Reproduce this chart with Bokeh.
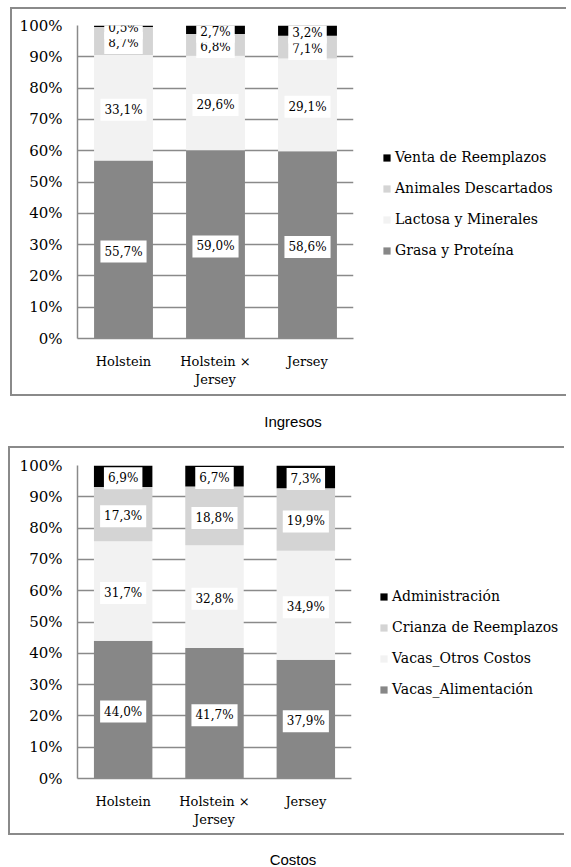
from bokeh.plotting import figure
from bokeh.models import (ColumnDataSource, FixedTicker, NumeralTickFormatter, Legend,
                          LegendItem, Div, Range1d, FactorRange)
from bokeh.layouts import column, row
from bokeh.core.properties import value
from bokeh.embed import file_html
from bokeh.resources import INLINE

# ---------------- data ----------------
breeds = ["Holstein", "Holstein ×\nJersey", "Jersey"]

ing_series = ["Grasa y Proteína", "Lactosa y Minerales", "Animales Descartados", "Venta de Reemplazos"]
ing_grasa = [55.7, 59.0, 58.6]
ing_lactosa = [33.1, 29.6, 29.1]
ing_animales = [8.7, 6.8, 7.1]
ing_venta = [0.5, 2.7, 3.2]

cos_series = ["Vacas_Alimentación", "Vacas_Otros Costos", "Crianza de Reemplazos", "Administración"]
cos_alim = [44.0, 41.7, 37.9]
cos_otros = [31.7, 32.8, 34.9]
cos_crianza = [17.3, 18.8, 19.9]
cos_admin = [6.9, 6.7, 7.3]

y_ticks = [0, 0.1, 0.2, 0.3, 0.4, 0.5, 0.6, 0.7, 0.8, 0.9, 1.0]

colors = ["#878787", "#f2f2f2", "#d4d4d4", "#000000"]

SERIF = "DejaVu Serif"
GRID = "#8a8a8a"
BORDER = f"2px solid {GRID}"


def make_panel(names, series, height, top, bottom, left, leg_x, leg_y, margin):
    p = figure(x_range=FactorRange(*breeds), y_range=Range1d(0, 1),
               width=345, height=height, output_backend="svg", toolbar_location=None,
               min_border_left=left, min_border_right=4, min_border_top=top,
               min_border_bottom=bottom)
    p.outline_line_color = None
    totals = [sum(s[i] for s in series) for i in range(len(breeds))]
    base = [0.0] * len(breeds)
    label_sources = []
    for name, vals, col in zip(names, series, colors):
        fr = [v / t for v, t in zip(vals, totals)]
        tops = [b + f for b, f in zip(base, fr)]
        mids = [b + f / 2 for b, f in zip(base, fr)]
        src = ColumnDataSource(dict(x=breeds, bottom=list(base), top=tops, mid=mids,
                                    lbl=[f"{v:.1f}%".replace(".", ",") for v in vals]))
        p.vbar(x="x", bottom="bottom", top="top", width=0.64, source=src,
               fill_color=col, line_color=None)
        label_sources.append(src)
        base = tops
    for src in label_sources:
        p.text(x="x", y="mid", text="lbl", source=src, text_align="center",
               text_baseline="middle", text_font=value(SERIF), text_font_size="12px",
               text_color="#000000", background_fill_color="white", padding=4,
               y_offset=2)

    p.xgrid.grid_line_color = None
    p.ygrid.grid_line_color = GRID
    p.ygrid.grid_line_width = 1.5

    p.yaxis.ticker = FixedTicker(ticks=y_ticks)
    p.yaxis.formatter = NumeralTickFormatter(format="0%")
    p.yaxis.major_label_text_font = SERIF
    p.yaxis.major_label_text_font_size = "15px"
    p.yaxis.major_label_text_color = "#000000"
    p.yaxis.major_label_standoff = 15
    p.yaxis.major_tick_out = 0
    p.yaxis.major_tick_in = 0
    p.yaxis.axis_line_color = GRID
    p.yaxis.axis_line_width = 1.5
    p.yaxis.major_tick_line_color = None
    p.yaxis.minor_tick_line_color = None

    p.xaxis.major_label_text_font = SERIF
    p.xaxis.major_label_text_font_size = "13px"
    p.xaxis.major_label_text_color = "#000000"
    p.xaxis.major_label_standoff = 15
    p.xaxis.major_tick_out = 0
    p.xaxis.major_tick_in = 0
    p.xaxis.axis_line_color = GRID
    p.xaxis.axis_line_width = 1.5
    p.xaxis.major_tick_line_color = None
    p.xaxis.minor_tick_line_color = None
    p.styles = {"border-left": BORDER, "border-top": BORDER, "border-bottom": BORDER}

    # legend panel (separate figure, same colours, nothing drawn in its frame)
    q = figure(x_range=Range1d(0, 1), y_range=Range1d(0, 1), width=211, height=height,
               output_backend="svg", toolbar_location=None, x_axis_location=None,
               y_axis_location=None, min_border=0)
    q.outline_line_color = None
    q.xgrid.visible = False
    q.ygrid.visible = False
    rs = []
    for name, col in zip(names, colors):
        r = q.vbar(x="x", top="top", bottom="bottom", width=0.5,
                   source=ColumnDataSource(dict(x=[0.5], top=[float("nan")],
                                                bottom=[float("nan")])),
                   fill_color=col, line_color=None)
        rs.append((name, r))
    items = [LegendItem(label=n, renderers=[r]) for n, r in reversed(rs)]
    leg = Legend(items=items, location=(leg_x, leg_y), glyph_height=9, glyph_width=9,
                 label_text_font=SERIF, label_text_font_size="14px",
                 label_text_color="#000000", spacing=11, label_height=20,
                 label_standoff=4, padding=0, margin=0, border_line_color=None,
                 background_fill_alpha=0)
    q.add_layout(leg)
    q.styles = {"border-top": BORDER, "border-bottom": BORDER}

    r_ = row(p, q, spacing=0)
    r_.margin = margin
    return r_


p1 = make_panel(ing_series, [ing_grasa, ing_lactosa, ing_animales, ing_venta],
                389, 16, 60, 65, 27, 78, (7, 0, 0, 10))
p2 = make_panel(cos_series, [cos_alim, cos_otros, cos_crianza, cos_admin],
                389, 17, 59, 67, 26, 79, (0, 0, 0, 8))

cap_style = ("width:571px;text-align:center;padding-left:15px;font-family:'Liberation Sans';"
             "font-size:15px;color:#000;")
d1 = Div(text=f'<div style="{cap_style}line-height:17px;padding-top:17px;">Ingresos</div>',
         width=571, height=50)
d2 = Div(text=f'<div style="{cap_style}line-height:15px;padding-top:17px;">Costos</div>',
         width=571, height=32)
d1.margin = 0
d2.margin = 0

layout = column(p1, d1, p2, d2, spacing=0)

open("out.html", "w").write(file_html(layout, INLINE))
